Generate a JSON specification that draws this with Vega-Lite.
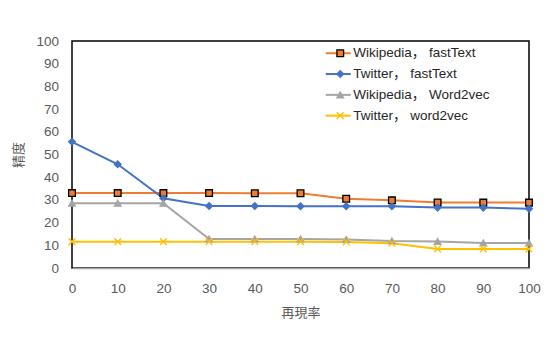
{
  "$schema": "https://vega.github.io/schema/vega-lite/v6.json",
  "width": 457,
  "height": 227,
  "autosize": {"type": "none"},
  "padding": {"left": 72, "top": 41, "right": 19, "bottom": 70},
  "background": "white",
  "config": {
    "view": {"stroke": "black", "strokeWidth": 1.5},
    "axis": {
      "labelColor": "#595959",
      "labelFont": "Liberation Sans",
      "labelFontSize": 13.5,
      "labelFlush": false,
      "ticks": false,
      "tickSize": 0,
      "grid": false,
      "titleColor": "#595959",
      "titleFont": "Noto Sans CJK JP",
      "titleFontSize": 13,
      "titleFontWeight": "normal"
    },
    "legend": {
      "labelFont": "Liberation Sans, Noto Sans CJK JP",
      "labelFontSize": 13.5,
      "labelColor": "#262626",
      "padding": 0,
      "rowPadding": 5.8
    }
  },
  "data": {
    "values": [
      {"series": "Wikipedia， fastText", "x": 0, "y": 33.0},
      {"series": "Wikipedia， fastText", "x": 10, "y": 33.0},
      {"series": "Wikipedia， fastText", "x": 20, "y": 33.0},
      {"series": "Wikipedia， fastText", "x": 30, "y": 33.0},
      {"series": "Wikipedia， fastText", "x": 40, "y": 32.9},
      {"series": "Wikipedia， fastText", "x": 50, "y": 32.9},
      {"series": "Wikipedia， fastText", "x": 60, "y": 30.5},
      {"series": "Wikipedia， fastText", "x": 70, "y": 29.8},
      {"series": "Wikipedia， fastText", "x": 80, "y": 28.9},
      {"series": "Wikipedia， fastText", "x": 90, "y": 28.8},
      {"series": "Wikipedia， fastText", "x": 100, "y": 28.8},
      {"series": "Twitter， fastText", "x": 0, "y": 55.6},
      {"series": "Twitter， fastText", "x": 10, "y": 45.7},
      {"series": "Twitter， fastText", "x": 20, "y": 30.7},
      {"series": "Twitter， fastText", "x": 30, "y": 27.3},
      {"series": "Twitter， fastText", "x": 40, "y": 27.3},
      {"series": "Twitter， fastText", "x": 50, "y": 27.2},
      {"series": "Twitter， fastText", "x": 60, "y": 27.2},
      {"series": "Twitter， fastText", "x": 70, "y": 27.2},
      {"series": "Twitter， fastText", "x": 80, "y": 26.6},
      {"series": "Twitter， fastText", "x": 90, "y": 26.6},
      {"series": "Twitter， fastText", "x": 100, "y": 26.1},
      {"series": "Wikipedia， Word2vec", "x": 0, "y": 28.5},
      {"series": "Wikipedia， Word2vec", "x": 10, "y": 28.5},
      {"series": "Wikipedia， Word2vec", "x": 20, "y": 28.5},
      {"series": "Wikipedia， Word2vec", "x": 30, "y": 12.8},
      {"series": "Wikipedia， Word2vec", "x": 40, "y": 12.8},
      {"series": "Wikipedia， Word2vec", "x": 50, "y": 12.8},
      {"series": "Wikipedia， Word2vec", "x": 60, "y": 12.6},
      {"series": "Wikipedia， Word2vec", "x": 70, "y": 11.9},
      {"series": "Wikipedia， Word2vec", "x": 80, "y": 11.7},
      {"series": "Wikipedia， Word2vec", "x": 90, "y": 11.0},
      {"series": "Wikipedia， Word2vec", "x": 100, "y": 11.0},
      {"series": "Twitter， word2vec", "x": 0, "y": 11.6},
      {"series": "Twitter， word2vec", "x": 10, "y": 11.6},
      {"series": "Twitter， word2vec", "x": 20, "y": 11.6},
      {"series": "Twitter， word2vec", "x": 30, "y": 11.6},
      {"series": "Twitter， word2vec", "x": 40, "y": 11.6},
      {"series": "Twitter， word2vec", "x": 50, "y": 11.6},
      {"series": "Twitter， word2vec", "x": 60, "y": 11.5},
      {"series": "Twitter， word2vec", "x": 70, "y": 10.9},
      {"series": "Twitter， word2vec", "x": 80, "y": 8.4},
      {"series": "Twitter， word2vec", "x": 90, "y": 8.4},
      {"series": "Twitter， word2vec", "x": 100, "y": 8.4}
    ]
  },
  "encoding": {
    "x": {
      "field": "x",
      "type": "quantitative",
      "scale": {"domain": [0, 100], "nice": false},
      "axis": {
        "title": "再現率",
        "values": [0, 10, 20, 30, 40, 50, 60, 70, 80, 90, 100],
        "labelPadding": 13,
        "domainColor": "#A6A6A6",
        "domainWidth": 1.5,
        "titlePadding": 12
      }
    },
    "y": {
      "field": "y",
      "type": "quantitative",
      "scale": {"domain": [0, 100], "nice": false},
      "axis": {
        "title": "精度",
        "values": [0, 10, 20, 30, 40, 50, 60, 70, 80, 90, 100],
        "labelPadding": 13.5,
        "domain": false,
        "titlePadding": 10
      }
    }
  },
  "layer": [
    {
      "mark": {"type": "line", "strokeWidth": 2},
      "encoding": {
        "color": {
          "field": "series",
          "type": "nominal",
          "scale": {
            "domain": ["Wikipedia， fastText", "Twitter， fastText", "Wikipedia， Word2vec", "Twitter， word2vec"],
            "range": ["#ED7D31", "#4472C4", "#A5A5A5", "#FFC000"]
          },
          "legend": {
            "orient": "none",
            "legendX": 259.5,
            "legendY": 5.5,
            "title": null,
            "symbolType": "M-2.5,0H2.5",
            "symbolSize": 100,
            "symbolStrokeWidth": 2,
            "labelOffset": 8.2
          }
        }
      }
    },
    {
      "mark": {"type": "point", "filled": true, "size": 45, "strokeWidth": 1.3, "opacity": 1},
      "encoding": {
        "shape": {
          "field": "series",
          "type": "nominal",
          "sort": null,
          "scale": {"range": ["square", "diamond", "triangle-up", "M-1,-1L1,1M-1,1L1,-1"]},
          "legend": {
            "orient": "none",
            "legendX": 261.5,
            "legendY": 5.5,
            "title": null,
            "labelExpr": "' '",
            "labelOpacity": 0,
            "symbolStrokeWidth": 1.3,
            "symbolOpacity": 1,
            "symbolSize": 45
          }
        },
        "fill": {
          "field": "series",
          "type": "nominal",
          "sort": null,
          "scale": {"range": ["#ED7D31", "#4472C4", "#A5A5A5", "#FFC000"]},
          "legend": {
            "orient": "none",
            "legendX": 261.5,
            "legendY": 5.5,
            "title": null,
            "labelExpr": "' '",
            "labelOpacity": 0
          }
        },
        "stroke": {
          "field": "series",
          "type": "nominal",
          "sort": null,
          "scale": {"range": ["#000000", "#4472C4", "#A5A5A5", "#FFC000"]},
          "legend": {
            "orient": "none",
            "legendX": 261.5,
            "legendY": 5.5,
            "title": null,
            "labelExpr": "' '",
            "labelOpacity": 0
          }
        }
      }
    }
  ]
}
